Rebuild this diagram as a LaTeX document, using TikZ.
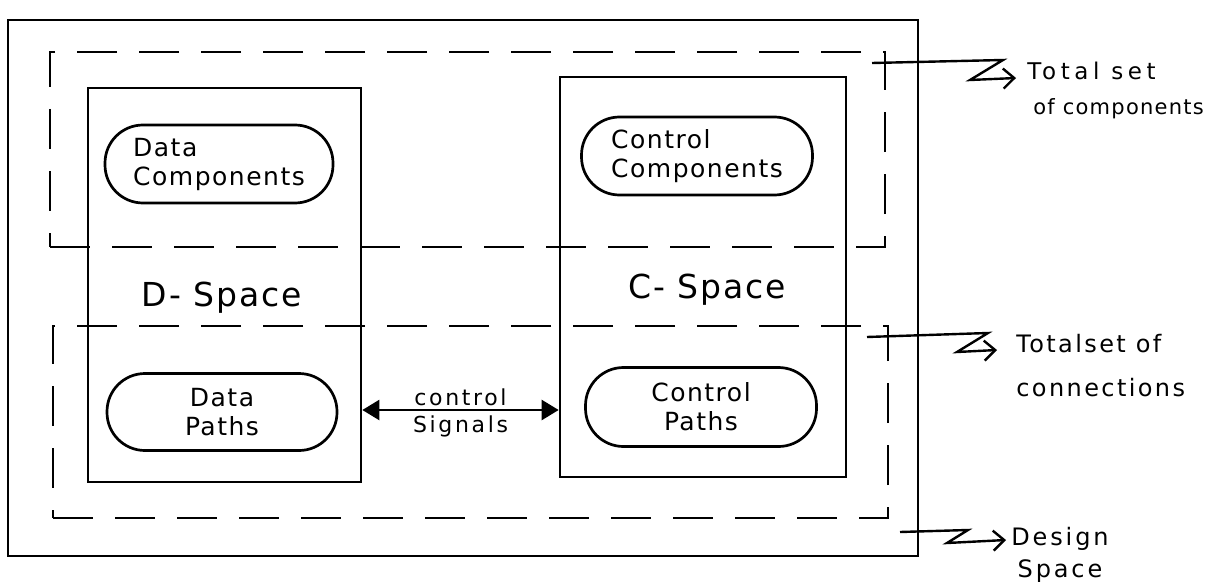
\documentclass[tikz,border=0pt]{standalone}
\usepackage{fontspec}
\setmainfont{DejaVu Sans}[LetterSpace=6]
\usetikzlibrary{arrows.meta,calc}
\begin{document}
\begin{tikzpicture}[x=1pt,y=-1pt,line width=2.7pt,
  box/.style={draw,rectangle,inner sep=0pt},
  dbox/.style={draw,rectangle,inner sep=0pt,dash pattern=on 40pt off 22pt},
  pill/.style={draw,rectangle,rounded corners=38pt,inner sep=0pt,align=left,font=\fontsize{25}{29}\selectfont},
  spacelbl/.style={font=\fontsize{33}{36}\selectfont},
  siglbl/.style={font=\fontsize{22}{26}\selectfont\addfontfeature{LetterSpace=12}},
  sidelbl/.style={font=\fontsize{23}{35}\selectfont,inner sep=0pt},
  lead/.style={line width=2.4pt,-{Straight Barb[length=11pt,width=20pt]}},
  sig/.style={line width=2.4pt,{Triangle[length=17pt,width=20pt]}-{Triangle[length=17pt,width=20pt]}}]
\useasboundingbox (0,0) rectangle (1212,583);

% frames
\node[box,minimum width=910pt,minimum height=536pt] (outer) at (463,288) {};
\node[dbox,minimum width=835pt,minimum height=195pt] (dashA) at (467.5,149.5) {};
\node[dbox,minimum width=835pt,minimum height=192pt] (dashB) at (470.5,422) {};
\node[box,minimum width=273pt,minimum height=394pt] (dbx) at (224.5,285) {};
\node[box,minimum width=286pt,minimum height=400pt] (cbx) at (703,277) {};

% pills
\node[pill,minimum width=228pt,minimum height=78pt] (dcomp) at (219,164) {Data\\Components};
\node[pill,minimum width=230pt,minimum height=77pt,align=center] (dpath) at (222,412) {Data\\Paths};
\node[pill,minimum width=231pt,minimum height=78pt] (ccomp) at (697,156) {Control\\Components};
\node[pill,minimum width=231pt,minimum height=79pt,align=center] (cpath) at (701,407) {Control\\Paths};

% space labels
\node[spacelbl] (dsp) at (222,298) {D- Space};
\node[spacelbl] (csp) at (707,290) {C- Space};

% control signals
\draw[sig] (dbx.east |- 0,410) -- (cbx.west |- 0,410)
  node[midway,above,siglbl,yshift=0pt] (ctl) {control}
  node[midway,below,siglbl,yshift=-1pt] (sgn) {Signals};

% side labels
\node[sidelbl,anchor=west,align=left] (labA) at (1026,90) {{\addfontfeature{LetterSpace=20}Total set}\\\hspace*{6pt}{\fontsize{21}{35}\selectfont of components}};
\node[sidelbl,anchor=west,align=left,font=\fontsize{24}{44}\selectfont\addfontfeature{LetterSpace=10}] (labB) at (1015,366) {Totalset of\\connections};
\node[sidelbl,align=center,font=\fontsize{24}{32}\selectfont\addfontfeature{LetterSpace=12}] (labC) at (1060,555) {Design\\Space};

\coordinate (a0) at (872,63);
\coordinate (a1) at (1003,60);
\coordinate (a2) at (970,80);
\coordinate (a3) at (1016,78);
\draw[lead] (a0) -- (a1) -- (a2) -- (a3);

\coordinate (b0) at (867,337);
\coordinate (b1) at (988,333);
\coordinate (b2) at (957,352);
\coordinate (b3) at (997,350);
\draw[lead] (b0) -- (b1) -- (b2) -- (b3);

\coordinate (c0) at (900,532);
\coordinate (c1) at (968,530);
\coordinate (c2) at (947,543);
\coordinate (c3) at (1006,540);
\draw[lead] (c0) -- (c1) -- (c2) -- (c3);
\end{tikzpicture}
\end{document}
